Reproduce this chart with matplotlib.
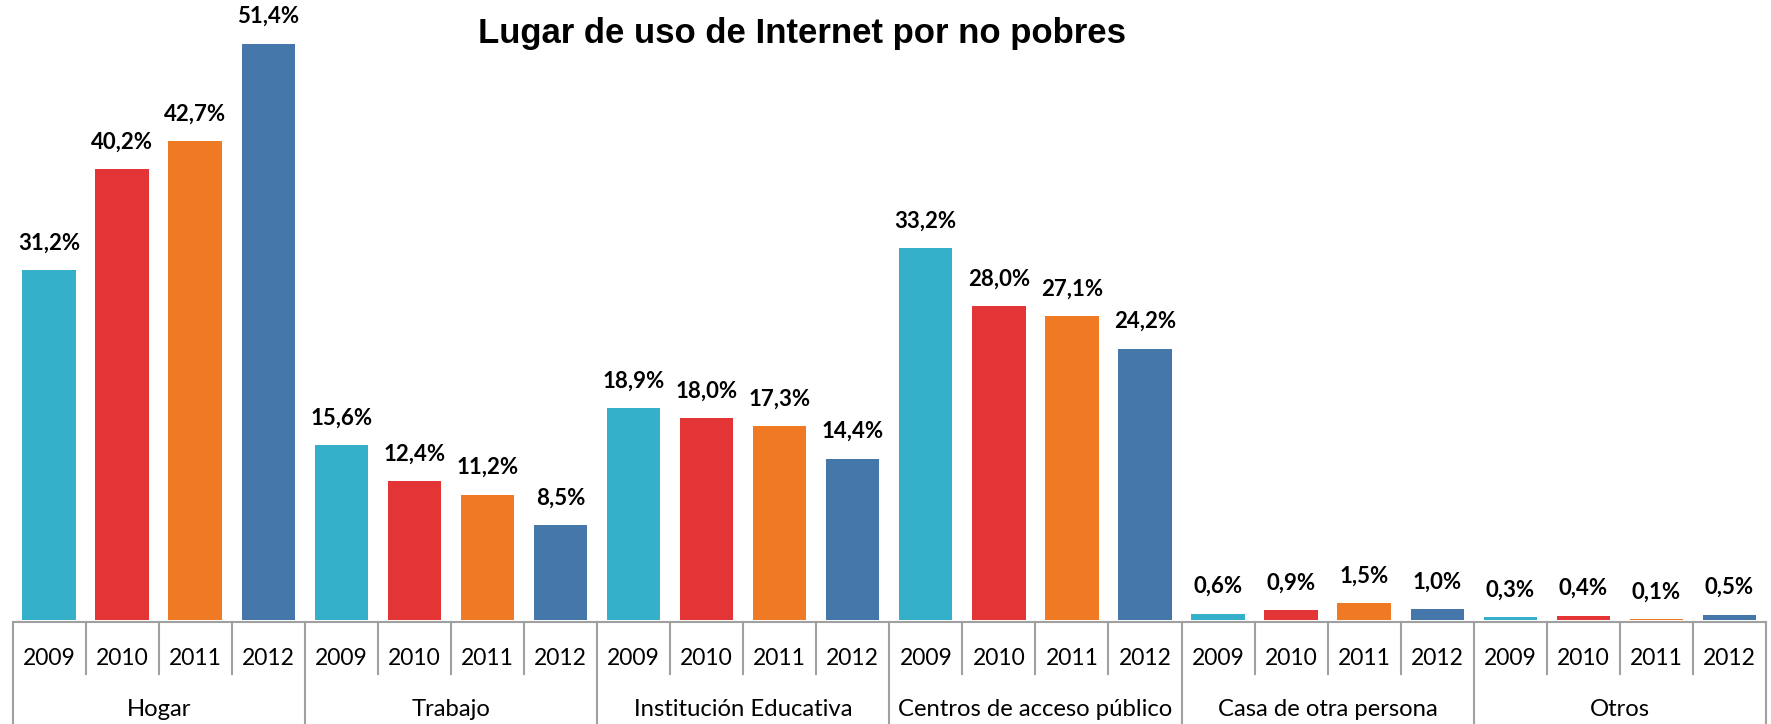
import numpy as np
import matplotlib.pyplot as plt

# datos
lugares = ["Hogar", "Trabajo", "Institución Educativa", "Centros de acceso público",
           "Casa de otra persona", "Otros"]
anios = ["2009", "2010", "2011", "2012"]
v2009 = [31.2, 15.6, 18.9, 33.2, 0.6, 0.3]
v2010 = [40.2, 12.4, 18.0, 28.0, 0.9, 0.4]
v2011 = [42.7, 11.2, 17.3, 27.1, 1.5, 0.1]
v2012 = [51.4, 8.5, 14.4, 24.2, 1.0, 0.5]
colores = ["#35B0CB", "#E33436", "#F07A23", "#4677AB"]

plt.rcParams['font.family'] = ['Lato', 'DejaVu Sans']

fig = plt.figure(figsize=(17.71, 7.24), dpi=100)
ax = fig.add_axes([12.5/1771, 1 - 622/724, (1766 - 12.5)/1771, 622/724])

series = [v2009, v2010, v2011, v2012]
ng = len(lugares)
for j, vals in enumerate(series):
    xx = np.arange(ng)*4 + j
    bars = ax.bar(xx, vals, width=0.73, color=colores[j], zorder=3)
    for b, v in zip(bars, vals):
        ax.annotate(f"{v:.1f}%".replace(".", ","), (b.get_x() + b.get_width()/2, v),
                    xytext=(0, 12), textcoords="offset points", ha="center", va="bottom",
                    fontsize=16, fontweight="bold")

ax.set_xlim(-0.5, ng*4 - 0.5)
ax.set_ylim(-0.15, 55.3)
for s in ["top", "right", "left"]:
    ax.spines[s].set_visible(False)
ax.spines["bottom"].set_color("#A0A0A0")
ax.spines["bottom"].set_linewidth(1.5)
ax.spines["bottom"].set_zorder(1)
ax.set_xticks([])
ax.set_yticks([])

# eje de dos niveles
trans = ax.get_xaxis_transform()
gris = "#A0A0A0"
for i in range(ng*4 + 1):
    if i % 4 == 0:
        ax.plot([i - 0.5, i - 0.5], [0, -0.17], transform=trans, color=gris, lw=1.5, clip_on=False)
    else:
        ax.plot([i - 0.5, i - 0.5], [0, -0.084], transform=trans, color=gris, lw=1.5, clip_on=False)
for i in range(ng*4):
    ax.text(i, -0.058, anios[i % 4], transform=trans, ha="center", va="center", fontsize=16.5)
for g in range(ng):
    ax.text(g*4 + 1.5, -0.141, lugares[g], transform=trans, ha="center", va="center", fontsize=17.2)

fig.text(802/1771, 1 - 34/724, "Lugar de uso de Internet por no pobres", ha="center", va="center",
         fontsize=25, fontweight="bold", family="Liberation Sans")

fig.savefig("out.png", dpi=100)
